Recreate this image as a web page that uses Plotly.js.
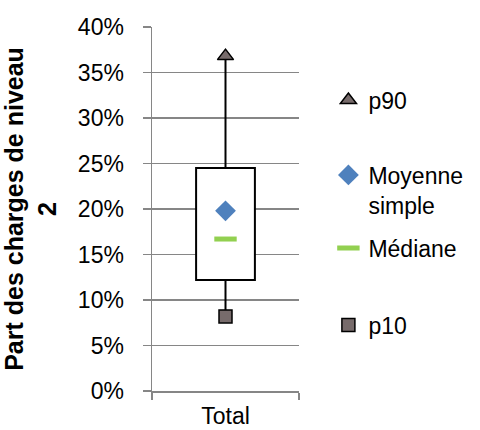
<!DOCTYPE html>
<html>
<head>
<meta charset="utf-8">
<script src="https://cdn.plot.ly/plotly-3.0.1.min.js"></script>
<style>html,body{margin:0;padding:0;background:#fff;}#chart{width:480px;height:430px;}</style>
</head>
<body>
<div id="chart"></div>
<script>
const categories = ['Total'];
const p10 = [0.082];
const q1 = [0.122];
const median = [0.167];
const mean = [0.198];
const q3 = [0.245];
const p90 = [0.368];
const seriesNames = ['p90', 'Moyenne<br>simple', 'Médiane', 'p10'];

const FONT = 'Liberation Sans, Arial, sans-serif';
const GREY = '#868686';

const boxHeights = q3.map((v, i) => v - q1[i]);
const wx = [], wy = [];
categories.forEach((c, i) => {
  wx.push(c, c, null, c, c);
  wy.push(p10[i], q1[i], null, q3[i], p90[i]);
});

const traces = [
  {type: 'bar', x: categories, y: boxHeights, base: q1, width: 0.4,
   marker: {color: '#ffffff', line: {color: '#000000', width: 2}},
   showlegend: false, hoverinfo: 'skip'},
  {type: 'scatter', mode: 'lines', x: wx, y: wy,
   line: {color: '#000000', width: 2}, showlegend: false, hoverinfo: 'skip'},
  {type: 'scatter', mode: 'markers', name: seriesNames[0], x: categories, y: p90,
   marker: {symbol: 'triangle-up', size: 14, color: '#776B6B', line: {color: '#000000', width: 1.5}},
   legend: 'legend'},
  {type: 'scatter', mode: 'markers', name: seriesNames[1], x: categories, y: mean,
   marker: {symbol: 'diamond', size: 16, color: '#4F81BD'},
   legend: 'legend2'},
  {type: 'scatter', mode: 'markers', name: seriesNames[2], x: categories, y: median,
   marker: {symbol: 'line-ew', size: 16, color: '#92D050', line: {color: '#92D050', width: 5}},
   legend: 'legend3'},
  {type: 'scatter', mode: 'markers', name: seriesNames[3], x: categories, y: p10,
   marker: {symbol: 'square', size: 13, color: '#776B6B', line: {color: '#000000', width: 1.5}},
   legend: 'legend4'}
];

const legBase = {xanchor: 'left', yanchor: 'middle', bgcolor: 'rgba(0,0,0,0)', borderwidth: 0,
  font: {family: FONT, size: 23, color: '#000000'}, itemwidth: 30, valign: 'top'};
const LX = 1.2;
function pyToPaper(py) { return (391 - py) / 364; }

const layout = {
  width: 480, height: 430,
  margin: {l: 152, r: 173, t: 27, b: 39, pad: 0},
  paper_bgcolor: '#ffffff', plot_bgcolor: '#ffffff',
  font: {family: FONT, size: 23, color: '#000000'},
  bargap: 0,
  xaxis: {
    type: 'category', range: [-0.5, 0.5],
    showline: true, linecolor: GREY, linewidth: 1.5,
    ticks: 'outside', tickson: 'boundaries', ticklen: 7, tickcolor: GREY, tickwidth: 1.5,
    showgrid: false, zeroline: false,
    tickfont: {family: FONT, size: 23, color: '#000000'},
    ticklabelstandoff: 4
  },
  yaxis: {
    range: [0, 0.4], dtick: 0.05, tick0: 0, tickformat: '.0%',
    showline: true, linecolor: GREY, linewidth: 1.5,
    ticks: 'outside', ticklen: 8, tickcolor: GREY, tickwidth: 1.5,
    showgrid: true, gridcolor: GREY, gridwidth: 1.5, zeroline: false,
    tickfont: {family: FONT, size: 23, color: '#000000'},
    ticklabelstandoff: 14,
    title: {text: 'Part des charges de niveau<br>2', standoff: 14,
            font: {family: FONT, size: 25, color: '#000000', weight: 'bold'}}
  },
  legend: Object.assign({}, legBase, {x: LX, y: pyToPaper(100)}),
  legend2: Object.assign({}, legBase, {x: LX, y: pyToPaper(190)}),
  legend3: Object.assign({}, legBase, {x: LX, y: pyToPaper(248)}),
  legend4: Object.assign({}, legBase, {x: LX, y: pyToPaper(325)})
};

Plotly.newPlot('chart', traces, layout, {displayModeBar: false, staticPlot: true});
</script>
</body>
</html>
